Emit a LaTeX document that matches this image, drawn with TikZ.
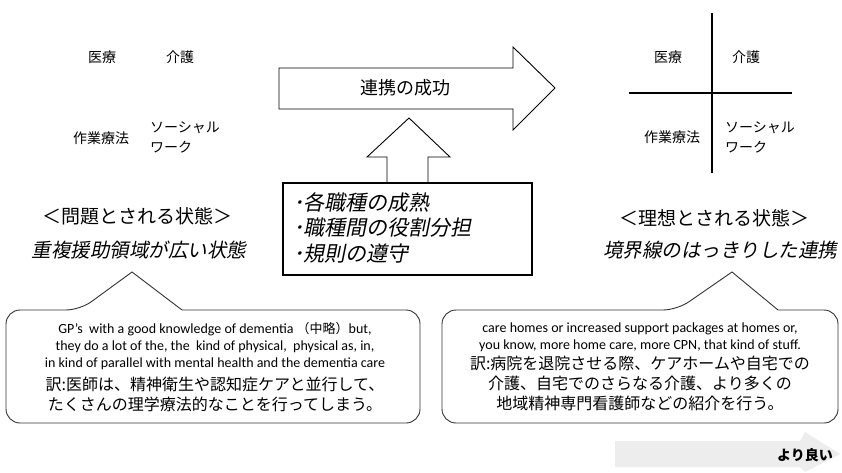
\documentclass[tikz,border=0pt]{standalone}
\usepackage{fontspec}
\setmainfont{Carlito}
\newfontfamily\jp{Noto Sans CJK JP}
\newfontfamily\jpit[FakeSlant=0.2]{Noto Sans CJK JP}
\newfontfamily\en{Carlito}
\begin{document}
\begin{tikzpicture}[x=1pt,y=-1pt,
  lbl/.style={font=\jp\fontsize{14}{16}\selectfont, inner sep=0pt},
  head/.style={font=\jp\fontsize{19}{22}\selectfont, inner sep=0pt},
  headit/.style={font=\jpit\fontsize{19.5}{22}\selectfont, inner sep=0pt},
  bigarrow/.style={draw=black, line width=0.9pt, fill=white, line join=miter},
  callout/.style={draw=black!80, line width=0.9pt, fill=white},
  entext/.style={font=\en\fontsize{14}{17}\selectfont, align=center, inner sep=0pt},
  jptext/.style={font=\jp\fontsize{16}{20}\selectfont, align=center, inner sep=0pt}]
\useasboundingbox (0,0) rectangle (842,473);
\fill[white] (0,0) rectangle (842,473);

% left panel
\node[lbl] (l1) at (102,57) {医療};
\node[lbl] (l2) at (180,57) {介護};
\node[lbl] (l3) at (101,138) {作業療法};
\node[lbl, anchor=west, align=left, font=\jp\fontsize{14}{20}\selectfont] (l4) at (150,137) {ソーシャル\\ワーク};

% right panel
\coordinate (vt) at (712,13);
\coordinate (vb) at (712,173);
\coordinate (hl) at (629,93);
\coordinate (hr) at (792,93);
\draw[line width=1.2pt] (vt) -- (vb);
\draw[line width=1.2pt] (hl) -- (hr);
\node[lbl] (r1) at (668,57) {医療};
\node[lbl] (r2) at (746,57) {介護};
\node[lbl] (r3) at (672,137) {作業療法};
\node[lbl, anchor=west, align=left, font=\jp\fontsize{14}{20}\selectfont] (r4) at (725,137) {ソーシャル\\ワーク};

% big right arrow
\draw[bigarrow] (279,68) -- (513,68) -- (513,47) -- (555,88) -- (513,130) -- (513,109) -- (279,109) -- cycle;
\node[font=\jp\fontsize{18}{20}\selectfont, inner sep=0pt] (succ) at (405,88) {連携の成功};

% up arrow
\draw[bigarrow] (387,183) -- (387,157) -- (367,157) -- (409,118) -- (450,157) -- (428,157) -- (428,183);
% factors box
\node[draw=black, line width=1.2pt, minimum width=249pt, minimum height=92pt, inner sep=0pt] (fbox) at (407.5,229) {};
\node[font=\jpit\fontsize{21}{25.5}\selectfont, align=left, anchor=north west, inner sep=0pt] (ftext) at (293,192) {･各職種の成熟\\･職種間の役割分担\\･規則の遵守};

% headings
\node[head] (h1) at (137,216) {＜問題とされる状態＞};
\node[headit] (h2) at (139,250) {重複援助領域が広い状態};
\node[head] (h3) at (714,218) {＜理想とされる状態＞};
\node[headit] (h4) at (720,250) {境界線のはっきりした連携};

% callouts
\coordinate (a1) at (132,272);
\coordinate (a2) at (732,272);
\draw[callout] (80,310) -- (a1) -- (182,310) [rounded corners=14] -- (420,310) -- (420,423) -- (6,423) -- (6,310) -- cycle;
\draw[callout] (677,310) -- (a2) -- (778,310) [rounded corners=14] -- (838,310) -- (838,423) -- (442,423) -- (442,310) -- cycle;

\node[entext] (e1) at (215,346) {GP’s\ \ with a good knowledge of dementia {\jp\fontsize{13}{17}\selectfont （中略）}but,\\they do a lot of the, the\ \ kind of physical,\ \ physical as, in,\\in kind of parallel with mental health and the dementia care};
\node[jptext] (j1) at (215,394) {訳:医師は、精神衛生や認知症ケアと並行して、\\たくさんの理学療法的なことを行ってしまう。};

\node[entext] (e2) at (640,337.5) {care homes or increased support packages at homes or,\\you know, more home care, more CPN, that kind of stuff.};
\node[jptext] (j2) at (640,383) {訳:病院を退院させる際、ケアホームや自宅での\\介護、自宅でのさらなる介護、より多くの\\地域精神専門看護師などの紹介を行う。};

% bottom faint arrow
\fill[black!7] (615,441) -- (800,441) -- (805,432) -- (840,454) -- (805,472) -- (800,467) -- (615,467) -- cycle;
\node[font=\jp\bfseries\fontsize{14}{16}\selectfont, inner sep=0pt] (better) at (805,455) {より良い};
\end{tikzpicture}
\end{document}
